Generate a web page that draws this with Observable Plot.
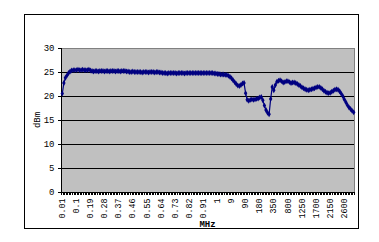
<!DOCTYPE html>
<html>
<head>
<meta charset="utf-8">
<script src="https://cdn.jsdelivr.net/npm/d3@7"></script>
<script src="https://cdn.jsdelivr.net/npm/@observablehq/plot@0.6"></script>
<style>
  html, body { margin: 0; padding: 0; background: #fff; }
  #wrap { position: relative; width: 379px; height: 242px; overflow: hidden; }
  #border { position: absolute; left: 24px; top: 14px; width: 335px; height: 215px; border: 1px solid #000; box-sizing: border-box; }
  #chart { position: absolute; left: 0; top: 0; }
</style>
</head>
<body>
<div id="wrap"><div id="border"></div><div id="chart"></div></div>
<script>
const xLabels = ["0.01","0.1","0.19","0.28","0.37","0.46","0.55","0.64","0.73","0.82","0.91","1","9","90","180","350","800","1250","1700","2150","2600"];
const yTicks = [0, 5, 10, 15, 20, 25, 30];
const gridValues = [5, 10, 15, 20, 25];
const dBm = [
  20.6, 22.8, 23.9, 24.4, 24.9, 25.2, 25.4, 25.5, 25.5, 25.5, 25.6, 25.5, 25.5, 25.6, 25.5, 25.5, 25.5, 25.6, 25.4,
  25.3, 25.2, 25.3, 25.3, 25.2, 25.3, 25.3, 25.3, 25.2, 25.3, 25.3, 25.2, 25.3, 25.3, 25.3, 25.2, 25.3, 25.3, 25.2, 25.3,
  25.3, 25.3, 25.2, 25.2, 25.1, 25.1, 25.2, 25.1, 25.1, 25.1,
  25.1, 25.1, 25.0, 25.1, 25.1, 25.1, 25.0, 25.1, 25.1, 25.1, 25.0, 25.1, 25.1, 25.0, 25.0, 24.9, 24.9, 24.9, 24.8, 24.9, 24.9, 24.9,
  24.9, 24.9, 24.8, 24.9, 24.9, 24.9, 24.9, 24.8, 24.9, 24.9, 24.9, 24.9, 24.9, 24.9, 24.9, 24.9, 24.9, 24.9, 24.9, 24.9,
  24.9, 24.9, 24.9, 24.9, 24.9, 24.9, 24.8, 24.8, 24.7, 24.7, 24.6, 24.6, 24.6, 24.5,
  24.5, 24.3, 24.1, 23.8, 23.4, 23.0, 22.6, 22.3, 22.2, 22.4, 22.7, 22.8,
  20.7, 19.3, 19.1, 19.3, 19.4, 19.3, 19.4, 19.5, 19.6, 19.8, 19.9, 19.2, 18.1, 17.2, 16.6, 16.3,
  19.5, 22.0, 21.3, 22.4, 23.1, 23.3, 23.4, 23.2, 22.9, 23.0, 23.2, 23.2, 23.0, 22.8, 22.9, 22.9, 22.8, 22.6, 22.4, 22.2,
  21.9, 21.7, 21.5, 21.4, 21.3, 21.4, 21.5, 21.6, 21.7, 21.9, 22.0, 22.0, 21.8, 21.5, 21.2, 21.0, 20.8, 20.7, 20.8, 21.0,
  21.2, 21.4, 21.5, 21.4, 21.1, 20.6, 20.1, 19.4, 18.8, 18.2, 17.7, 17.4, 17.0, 16.7
];
const yLabel = "dBm";
const xLabel = "MHz";

const data = dBm.map((v, i) => ({i, v}));
const n = dBm.length;
const labelData = xLabels.map((t, k) => ({t, i: k * 9}));
const catBounds = d3.range(n + 1).map(k => k - 0.5);

const chart = Plot.plot({
  width: 379,
  height: 242,
  marginLeft: 61,
  marginRight: 25,
  marginTop: 48,
  marginBottom: 50,
  style: {fontFamily: "'Liberation Mono', monospace", fontSize: "9px", color: "#000", background: "transparent"},
  x: {domain: [-0.5, n - 0.5], axis: null},
  y: {domain: [0, 30], axis: null},
  marks: [
    Plot.frame({fill: "#C0C0C0", stroke: "#808080"}),
    Plot.ruleY(gridValues, {stroke: "#000", strokeWidth: 1}),
    Plot.axisY(yTicks, {tickSize: 3, tickPadding: 4, stroke: "#000", label: null}),
    Plot.text(labelData, {x: "i", text: "t", frameAnchor: "bottom", rotate: -90, textAnchor: "end", lineAnchor: "middle", dy: 6, fill: "#000", fontSize: 8.3}),
    Plot.ruleY([0], {stroke: "#000", strokeWidth: 1}),
    Plot.ruleX([-0.5], {stroke: "#000", strokeWidth: 1}),
    Plot.line(data, {x: "i", y: "v", stroke: "#000080", strokeWidth: 1.2}),
    Plot.dot(data, {x: "i", y: "v", symbol: "diamond", r: 1.8, fill: "#000080", stroke: "none"})
  ]
});
document.getElementById("chart").appendChild(chart);

// category tick marks below the x axis, and axis titles, placed with the plot's scales
const svg = d3.select(chart);
const xs = chart.scale("x"), ys = chart.scale("y");
const y0 = ys.apply(0);
svg.append("g").selectAll("line").data(catBounds).join("line")
  .attr("x1", d => Math.round(xs.apply(d)) + 0.5).attr("x2", d => Math.round(xs.apply(d)) + 0.5)
  .attr("y1", y0).attr("y2", y0 + 3).attr("stroke", "#000");
const cx = (xs.apply(-0.5) + xs.apply(n - 0.5)) / 2;
svg.append("text").text(xLabel).attr("x", cx).attr("y", 227)
  .attr("text-anchor", "middle").attr("font-weight", "bold").attr("font-size", "9px")
  .attr("font-family", "'Liberation Mono', monospace");
const cy = (ys.apply(0) + ys.apply(30)) / 2;
svg.append("text").text(yLabel)
  .attr("transform", `translate(40,${cy}) rotate(-90)`)
  .attr("text-anchor", "middle").attr("font-size", "9px")
  .attr("font-family", "'Liberation Mono', monospace");
</script>
</body>
</html>
